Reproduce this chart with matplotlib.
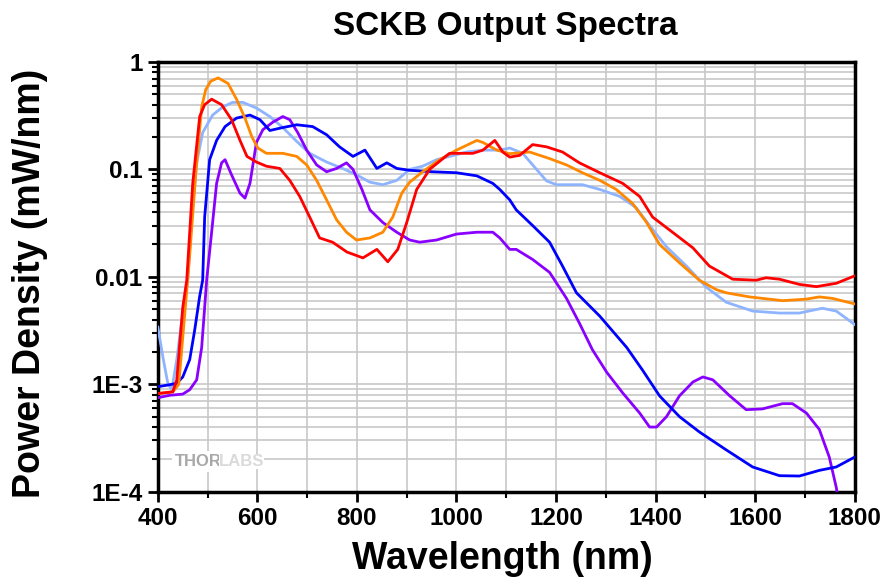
import matplotlib
matplotlib.use("Agg")
import matplotlib.pyplot as plt
from matplotlib.ticker import LogLocator, FixedLocator, NullFormatter

plt.rcParams['font.family'] = ['Liberation Sans', 'DejaVu Sans']

# spectra (wavelength nm, power density mW/nm)
red_wl = [400, 430, 438, 450, 458, 470, 484, 494, 508, 528, 548, 565, 579, 598, 618, 645, 665, 685,
          705, 725, 751, 780, 812, 840, 862, 882, 900, 920, 946, 986, 1033, 1053, 1077, 1093, 1107,
          1127, 1153, 1181, 1213, 1247, 1288, 1334, 1368, 1394, 1434, 1475, 1508, 1555, 1602, 1622,
          1649, 1689, 1723, 1763, 1800]
red_p = [0.00082, 0.00085, 0.0011, 0.0052, 0.0093, 0.074, 0.31, 0.40, 0.45, 0.40, 0.29, 0.186, 0.132,
         0.117, 0.107, 0.102, 0.079, 0.056, 0.036, 0.023, 0.021, 0.017, 0.015, 0.018, 0.0138, 0.018,
         0.032, 0.065, 0.10, 0.141, 0.141, 0.151, 0.186, 0.145, 0.13, 0.135, 0.17, 0.162, 0.145, 0.115,
         0.093, 0.074, 0.056, 0.036, 0.026, 0.0186, 0.0126, 0.0095, 0.0093, 0.0098, 0.0095, 0.0085,
         0.0081, 0.0087, 0.0102]

orange_wl = [400, 430, 442, 454, 464, 476, 488, 496, 506, 521, 541, 558, 575, 589, 601, 618, 651, 679,
             699, 719, 739, 759, 779, 799, 826, 852, 872, 890, 906, 932, 966, 1000, 1041, 1053, 1081,
             1107, 1147, 1187, 1221, 1253, 1288, 1321, 1354, 1382, 1408, 1448, 1488, 1522, 1542, 1589,
             1655, 1703, 1729, 1755, 1800]
orange_p = [0.00082, 0.00085, 0.001, 0.0045, 0.016, 0.09, 0.38, 0.55, 0.66, 0.71, 0.63, 0.45, 0.30,
            0.20, 0.158, 0.141, 0.141, 0.132, 0.11, 0.079, 0.052, 0.034, 0.026, 0.022, 0.023, 0.026,
            0.036, 0.060, 0.076, 0.095, 0.123, 0.151, 0.186, 0.178, 0.151, 0.14, 0.145, 0.126, 0.11,
            0.093, 0.079, 0.065, 0.048, 0.032, 0.020, 0.0135, 0.0093, 0.0076, 0.0071, 0.0065, 0.006,
            0.0062, 0.0065, 0.0063, 0.0056]

lblue_wl = [400, 410, 420, 428, 438, 450, 460, 468, 478, 490, 510, 530, 550, 571, 599, 625, 651, 679,
            705, 739, 771, 799, 826, 852, 880, 906, 932, 960, 986, 1020, 1053, 1087, 1107, 1133, 1153,
            1181, 1201, 1253, 1288, 1328, 1361, 1388, 1422, 1462, 1502, 1542, 1595, 1649, 1689, 1735,
            1763, 1800]
lblue_p = [0.0034, 0.0018, 0.00102, 0.00089, 0.0017, 0.0047, 0.0093, 0.036, 0.115, 0.22, 0.32, 0.38,
           0.42, 0.42, 0.37, 0.31, 0.245, 0.182, 0.141, 0.117, 0.102, 0.089, 0.076, 0.072, 0.079, 0.10,
           0.107, 0.123, 0.132, 0.145, 0.151, 0.151, 0.158, 0.141, 0.11, 0.078, 0.072, 0.072, 0.065,
           0.056, 0.044, 0.030, 0.019, 0.0126, 0.008, 0.0058, 0.0048, 0.0046, 0.0046, 0.0051, 0.0048,
           0.0036]

blue_wl = [400, 418, 438, 450, 464, 474, 484, 490, 494, 504, 518, 535, 558, 585, 605, 625, 651, 679,
           711, 739, 765, 792, 816, 840, 860, 880, 906, 952, 1000, 1041, 1073, 1087, 1107, 1120, 1153,
           1187, 1213, 1241, 1288, 1342, 1374, 1408, 1448, 1488, 1542, 1595, 1649, 1689, 1729, 1763,
           1800]
blue_p = [0.00095, 0.00098, 0.00102, 0.00117, 0.0017, 0.0032, 0.0066, 0.0093, 0.036, 0.123, 0.186,
          0.25, 0.30, 0.32, 0.29, 0.23, 0.245, 0.26, 0.25, 0.21, 0.162, 0.132, 0.151, 0.102, 0.115,
          0.102, 0.098, 0.095, 0.093, 0.087, 0.074, 0.065, 0.052, 0.042, 0.030, 0.021, 0.0126, 0.0071,
          0.0043, 0.0022, 0.00135, 0.00078, 0.0005, 0.00036, 0.000245, 0.00017, 0.000141, 0.00014,
          0.000158, 0.00017, 0.00021]

purple_wl = [400, 424, 450, 464, 478, 488, 494, 498, 508, 518, 528, 535, 548, 565, 575, 585, 598, 611,
             631, 651, 665, 681, 699, 719, 739, 759, 779, 792, 810, 826, 852, 880, 906, 926, 960, 1000,
             1041, 1073, 1087, 1107, 1120, 1153, 1187, 1221, 1247, 1273, 1302, 1334, 1368, 1388, 1402,
             1422, 1448, 1475, 1495, 1515, 1549, 1582, 1615, 1655, 1675, 1703, 1729, 1749, 1763, 1770]
purple_p = [0.00075, 0.00079, 0.00081, 0.00089, 0.0011, 0.0022, 0.0052, 0.0093, 0.026, 0.074, 0.115,
            0.123, 0.089, 0.060, 0.054, 0.074, 0.178, 0.234, 0.275, 0.31, 0.29, 0.22, 0.151, 0.11,
            0.095, 0.102, 0.115, 0.10, 0.065, 0.042, 0.032, 0.026, 0.022, 0.021, 0.022, 0.025, 0.026,
            0.026, 0.023, 0.018, 0.018, 0.0145, 0.011, 0.0063, 0.0037, 0.0021, 0.00129, 0.00083,
            0.00054, 0.0004, 0.0004, 0.0005, 0.00078, 0.00105, 0.00117, 0.0011, 0.00078, 0.00058,
            0.00059, 0.00066, 0.00066, 0.00054, 0.00038, 0.00021, 0.00011, 0.00007]

x_ticks = [400, 600, 800, 1000, 1200, 1400, 1600, 1800]
y_ticks = [1e-4, 1e-3, 1e-2, 1e-1, 1]
y_labels = ['1E-4', '1E-3', '0.01', '0.1', '1']

fig = plt.figure(figsize=(8.82, 5.84), dpi=100)
ax = fig.add_axes([0.179, 0.158, 0.790, 0.736])

lw = 2.0
ax.plot(lblue_wl, lblue_p, color='#8fb4ff', lw=lw, zorder=3)
ax.plot(purple_wl, purple_p, color='#8a00ff', lw=lw, zorder=3)
ax.plot(blue_wl, blue_p, color='#0000ff', lw=lw, zorder=4)
ax.plot(orange_wl, orange_p, color='#ff8800', lw=lw, zorder=4)
ax.plot(red_wl, red_p, color='#ff0000', lw=lw, zorder=5)

ax.set_yscale('log')
ax.set_xlim(400, 1800)
ax.set_ylim(1e-4, 1)

ax.set_xticks(x_ticks)
ax.set_xticklabels([str(t) for t in x_ticks])
ax.xaxis.set_minor_locator(FixedLocator(range(500, 1800, 200)))
ax.set_yticks(y_ticks)
ax.set_yticklabels(y_labels)
ax.yaxis.set_minor_locator(LogLocator(base=10, subs=range(2, 10)))
ax.yaxis.set_minor_formatter(NullFormatter())

# grid on every 100 nm and every log minor step
for xv in range(500, 1800, 100):
    ax.axvline(xv, color='#c8c8c8', lw=1.2, zorder=1)
ax.grid(True, which='both', axis='y', color='#c8c8c8', lw=1.2, zorder=1)
ax.set_axisbelow(True)

ax.tick_params(axis='both', which='major', direction='out', length=7, width=2,
               labelsize=17.5, pad=4)
ax.tick_params(axis='both', which='minor', direction='out', length=4, width=1.5)
for lab in ax.get_xticklabels() + ax.get_yticklabels():
    lab.set_fontweight('bold')
for sp in ax.spines.values():
    sp.set_linewidth(2.5)

fig.text(0.573, 0.955, 'SCKB Output Spectra', fontsize=24, fontweight='bold',
         ha='center', va='center')
fig.text(0.57, 0.043, 'Wavelength (nm)', fontsize=27, fontweight='bold',
         ha='center', va='center')
fig.text(0.034, 0.515, 'Power Density (mW/nm)', fontsize=27, fontweight='bold',
         ha='center', va='center', rotation=90)

# watermark
wm = ax.text(434, 1.9e-4, 'THOR', fontsize=12, fontweight='bold', color='#a8a8a8',
             va='center', ha='left', zorder=2,
             bbox=dict(facecolor='white', edgecolor='none', pad=2))
ax.annotate('LABS', xy=(1, 0.5), xycoords=wm, xytext=(-2, 0), textcoords='offset points',
            fontsize=12, fontweight='bold', color='#dadada', va='center', ha='left',
            zorder=2, bbox=dict(facecolor='white', edgecolor='none', pad=0))

plt.savefig('out.png', dpi=100)
